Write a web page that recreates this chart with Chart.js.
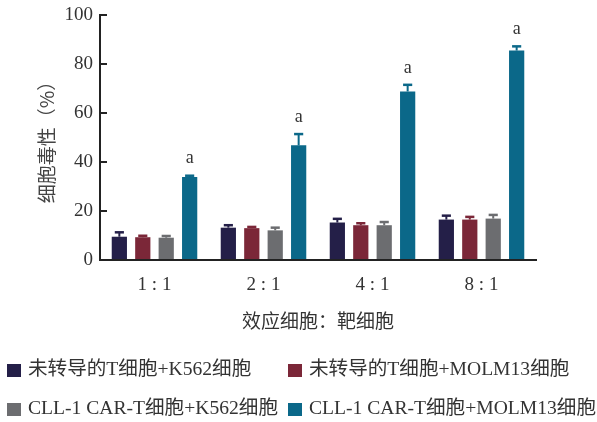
<!DOCTYPE html>
<html>
<head>
<meta charset="utf-8">
<script src="https://cdn.jsdelivr.net/npm/chart.js@4/dist/chart.umd.min.js"></script>
<style>
  html, body { margin: 0; padding: 0; background: #ffffff; }
  #wrap { width: 597px; height: 422px; position: relative; }
</style>
</head>
<body>
<div id="wrap"><canvas id="chart" width="597" height="422"></canvas></div>
<script>
// Effector : target ratios
const categories = ['1 : 1', '2 : 1', '4 : 1', '8 : 1'];

// Group names
const seriesNames = [
  '未转导的T细胞+K562细胞',
  '未转导的T细胞+MOLM13细胞',
  'CLL-1 CAR-T细胞+K562细胞',
  'CLL-1 CAR-T细胞+MOLM13细胞'
];

// Cytotoxicity (%) means and upper error (SD)
const utK562 = [9.5, 13.2, 15.3, 16.5];
const utK562Err = [1.8, 1.0, 1.5, 1.6];
const utMOLM13 = [9.3, 13.0, 14.2, 16.5];
const utMOLM13Err = [0.6, 0.5, 0.8, 1.1];
const carK562 = [9.1, 12.1, 14.2, 16.9];
const carK562Err = [0.7, 1.1, 1.3, 1.5];
const carMOLM13 = [33.9, 46.8, 68.8, 85.5];
const carMOLM13Err = [0.5, 4.6, 2.7, 1.7];

// Significance letters above the CAR-T + MOLM13 bars
const sigLetters = ['a', 'a', 'a', 'a'];

// Y axis ticks
const yTicks = [0, 20, 40, 60, 80, 100];

const colors = ['#241f48', '#7b2738', '#6c6d70', '#0b6889'];

const LATIN = "'Liberation Serif', 'Noto Sans CJK SC', serif";
const CJK = "'Noto Sans CJK SC', 'Liberation Serif', sans-serif";

const values = [utK562, utMOLM13, carK562, carMOLM13];
const errors = [utK562Err, utMOLM13Err, carK562Err, carMOLM13Err];

const datasets = seriesNames.map((name, i) => ({
  label: name,
  data: values[i],
  errors: errors[i],
  backgroundColor: colors[i],
  borderWidth: 0,
  categoryPercentage: 0.86,
  barPercentage: 0.65
}));

// Upward error bars with caps, in the bar colour
const errorBars = {
  id: 'errorBars',
  afterDatasetsDraw(chart) {
    const ctx = chart.ctx;
    const y = chart.scales.y;
    chart.data.datasets.forEach((ds, di) => {
      const meta = chart.getDatasetMeta(di);
      meta.data.forEach((bar, i) => {
        const top = y.getPixelForValue(ds.data[i] + ds.errors[i]);
        const half = bar.width * 0.3;
        ctx.save();
        ctx.strokeStyle = ds.backgroundColor;
        ctx.lineWidth = 2;
        ctx.beginPath();
        ctx.moveTo(bar.x, bar.y);
        ctx.lineTo(bar.x, top);
        ctx.stroke();
        ctx.lineWidth = 2.5;
        ctx.beginPath();
        ctx.moveTo(bar.x - half, top);
        ctx.lineTo(bar.x + half, top);
        ctx.stroke();
        ctx.restore();
      });
    });
  }
};

// Significance letters
const sigMarks = {
  id: 'sigMarks',
  afterDatasetsDraw(chart) {
    const ctx = chart.ctx;
    const y = chart.scales.y;
    const di = 3;
    const ds = chart.data.datasets[di];
    const meta = chart.getDatasetMeta(di);
    ctx.save();
    ctx.fillStyle = '#333333';
    ctx.font = '18px ' + LATIN;
    ctx.textAlign = 'center';
    ctx.textBaseline = 'middle';
    meta.data.forEach((bar, i) => {
      const top = y.getPixelForValue(ds.data[i] + ds.errors[i]);
      ctx.fillText(sigLetters[i], bar.x, top - 17);
    });
    ctx.restore();
  }
};

// Two-column legend under the axis title
const gridLegend = {
  id: 'gridLegend',
  afterDraw(chart) {
    const ctx = chart.ctx;
    const colX = [7, 288];
    const rowY = [370, 409];
    ctx.save();
    ctx.font = '19.6px ' + LATIN;
    ctx.textBaseline = 'middle';
    ctx.textAlign = 'left';
    chart.data.datasets.forEach((ds, i) => {
      const x = colX[i % 2];
      const yy = rowY[Math.floor(i / 2)];
      ctx.fillStyle = ds.backgroundColor;
      ctx.fillRect(x, yy - 6, 14, 13);
      ctx.fillStyle = '#333333';
      ctx.fillText(ds.label, x + 21, yy);
    });
    ctx.restore();
  }
};

new Chart(document.getElementById('chart'), {
  type: 'bar',
  data: { labels: categories, datasets },
  options: {
    responsive: false,
    animation: false,
    devicePixelRatio: 1,
    layout: { padding: { top: 15, right: 61, bottom: 80, left: 0 } },
    plugins: {
      legend: { display: false },
      tooltip: { enabled: false }
    },
    scales: {
      x: {
        grid: { display: false },
        border: { display: true, color: '#222222', width: 2 },
        ticks: {
          color: '#333333',
          font: { family: LATIN, size: 19 },
          padding: 6
        },
        title: {
          display: true,
          text: '效应细胞：靶细胞',
          color: '#333333',
          font: { family: CJK, size: 19 },
          padding: { top: 0, bottom: 10 }
        },
        afterFit(scale) { scale.height = 82; }
      },
      y: {
        min: 0,
        max: 100,
        afterBuildTicks(scale) { scale.ticks = yTicks.map(v => ({ value: v })); },
        grid: {
          display: true,
          drawOnChartArea: false,
          drawTicks: true,
          tickLength: -7,
          color: '#222222',
          lineWidth: 2
        },
        border: { display: true, color: '#222222', width: 2 },
        ticks: {
          color: '#333333',
          font: { family: LATIN, size: 19 },
          padding: 14
        },
        title: {
          display: true,
          text: '细胞毒性（%）',
          color: '#444444',
          font: { family: CJK, size: 19 },
          padding: { top: 35, bottom: 0 }
        },
        afterFit(scale) {
          scale.width = 100;
          scale.paddingTop = 0;
          scale.paddingBottom = 0;
        }
      }
    }
  },
  plugins: [errorBars, sigMarks, gridLegend]
});
</script>
</body>
</html>
